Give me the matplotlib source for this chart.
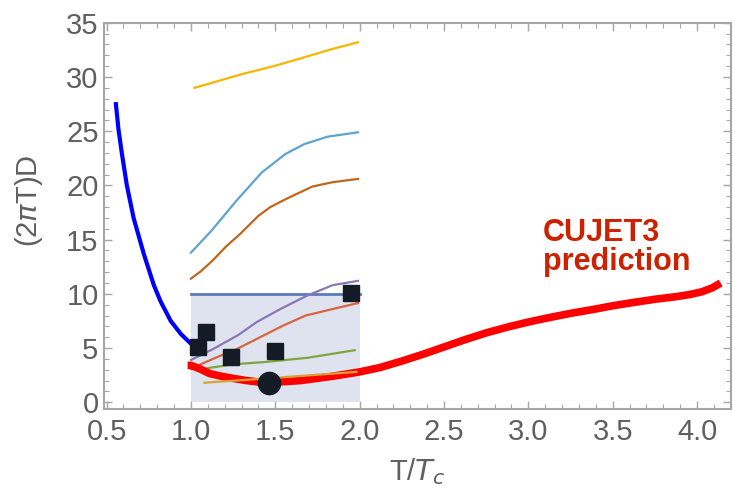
import numpy as np
import matplotlib.pyplot as plt
from matplotlib.ticker import MultipleLocator

plt.rcParams['font.family'] = ['Liberation Sans', 'DejaVu Sans']

# CUJET3 curve, (2 pi T) D vs T/Tc
cujet_T = [0.98, 1.0, 1.05, 1.11, 1.18, 1.25, 1.33, 1.41, 1.5, 1.65, 1.84, 2.0, 2.12, 2.25,
           2.38, 2.5, 2.62, 2.75, 2.88, 3.0, 3.12, 3.25, 3.38, 3.5, 3.62, 3.75, 3.88,
           3.96, 4.03, 4.09, 4.14]
cujet_D = [3.4, 3.4, 3.1, 2.65, 2.4, 2.2, 2.0, 1.85, 1.85, 2.0, 2.4, 2.8, 3.2, 3.8,
           4.45, 5.1, 5.75, 6.4, 6.95, 7.4, 7.8, 8.2, 8.55, 8.9, 9.2, 9.5, 9.75,
           9.95, 10.2, 10.55, 11.0]

# blue curve below Tc
blue_T = [0.555, 0.57, 0.59, 0.62, 0.66, 0.72, 0.78, 0.82, 0.88, 0.94, 1.0]
blue_D = [27.5, 25.2, 23.0, 20.0, 17.0, 13.7, 10.8, 9.3, 7.5, 6.3, 5.4]

# model curves between Tc and 2 Tc
yellow_T = [1.02, 1.11, 1.31, 1.49, 1.69, 1.84, 1.99]
yellow_D = [29.0, 29.4, 30.3, 31.0, 31.9, 32.6, 33.2]

lblue_T = [1.0, 1.12, 1.27, 1.42, 1.56, 1.67, 1.81, 1.99]
lblue_D = [13.8, 15.8, 18.6, 21.2, 22.9, 23.8, 24.5, 24.9]

brown_T = [1.0, 1.06, 1.13, 1.21, 1.29, 1.40, 1.47, 1.57, 1.72, 1.84, 1.99]
brown_D = [11.4, 12.1, 13.1, 14.4, 15.5, 17.2, 18.0, 18.8, 19.9, 20.3, 20.6]

purple_T = [1.0, 1.13, 1.28, 1.39, 1.53, 1.69, 1.84, 1.99]
purple_D = [3.9, 4.9, 6.2, 7.4, 8.6, 9.85, 10.8, 11.2]

salmon_T = [1.0, 1.13, 1.27, 1.41, 1.55, 1.68, 1.84, 1.99]
salmon_D = [3.1, 4.0, 4.9, 6.0, 7.1, 8.0, 8.6, 9.15]

green_T = [1.08, 1.25, 1.43, 1.69, 1.97]
green_D = [3.1, 3.5, 3.7, 4.1, 4.8]

tan_T = [1.08, 1.45, 1.98]
tan_D = [1.8, 2.2, 2.8]

# lattice points
sq_T = [1.04, 1.09, 1.24, 1.50, 1.95]
sq_D = [5.1, 6.5, 4.2, 4.7, 10.1]
circ_T = [1.46]
circ_D = [1.8]

gray = '#5f5f5f'
frame = '#a6a6a6'

fig = plt.figure(figsize=(7.33, 4.96), dpi=100)
ax = fig.add_axes([0.142, 0.175, 0.855, 0.779])

ax.fill_between([1.0, 2.0], 0, 10, color='#dee3ef', lw=0, zorder=1)
ax.plot([1.0, 2.0], [10, 10], color='#5b7bb8', lw=2, zorder=2)

ax.plot(yellow_T, yellow_D, color='#f7b500', lw=1.6, zorder=3)
ax.plot(lblue_T, lblue_D, color='#5fa4cf', lw=1.6, zorder=3)
ax.plot(brown_T, brown_D, color='#c0661c', lw=1.6, zorder=3)
ax.plot(purple_T, purple_D, color='#8a78b6', lw=1.6, zorder=3)
ax.plot(salmon_T, salmon_D, color='#d9643f', lw=1.6, zorder=3)
ax.plot(green_T, green_D, color='#7fa63c', lw=1.6, zorder=3)

ax.plot(blue_T, blue_D, color='#0000ff', lw=3, zorder=4)
ax.plot(cujet_T, cujet_D, color='#ff0000', lw=5.5, solid_capstyle='butt',
        solid_joinstyle='round', zorder=4)
ax.plot(tan_T, tan_D, color='#d9a135', lw=1.6, zorder=5)

ax.plot(sq_T, sq_D, 's', color='#141b26', ms=11, zorder=6)
ax.plot(circ_T, circ_D, 'o', color='#141b26', ms=16, zorder=6)

ax.text(3.087, 14.3, 'CUJET3\nprediction', color='#cc2200', fontsize=22,
        fontweight='bold', ha='left', va='center', linespacing=0.95)

ax.set_xlim(0.485, 4.2)
ax.set_ylim(-0.64, 35)
ax.xaxis.set_major_locator(MultipleLocator(0.5))
ax.xaxis.set_minor_locator(MultipleLocator(0.1))
ax.yaxis.set_major_locator(MultipleLocator(5))
ax.yaxis.set_minor_locator(MultipleLocator(1))
ax.xaxis.set_major_formatter(plt.FuncFormatter(lambda v, p: f'{v:.1f}'))

ax.tick_params(which='both', direction='in', top=True, right=True,
               color=frame, labelcolor=gray, labelsize=21)
ax.tick_params(which='major', length=6, width=1)
ax.tick_params(which='minor', length=3.5, width=0.8)
ax.tick_params(axis='x', pad=6)
ax.tick_params(axis='y', pad=4)
for s in ax.spines.values():
    s.set_color(frame)
    s.set_linewidth(1.5)

ax.set_xlabel(r'T/$T_c$', color=gray, fontsize=21, labelpad=8)
ax.set_ylabel(r'(2$\pi$T)D', color=gray, fontsize=21, labelpad=4)
ax.yaxis.set_label_coords(-0.095, 0.54)

fig.savefig('out.png', dpi=100)
